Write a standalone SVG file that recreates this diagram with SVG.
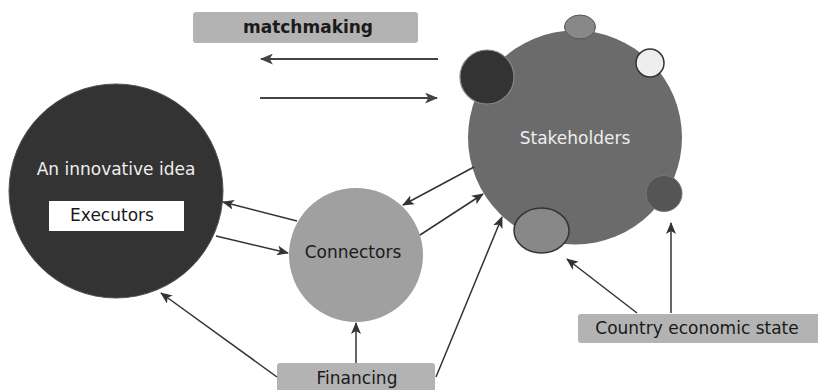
<svg xmlns="http://www.w3.org/2000/svg" width="818" height="390" viewBox="0 0 818 390">
  <defs>
    <marker id="head" viewBox="0 0 12 10" refX="11" refY="5" markerWidth="12" markerHeight="10" markerUnits="userSpaceOnUse" orient="auto">
      <path d="M0,0 L12,5 L0,10 L3,5 Z" fill="#333"/>
    </marker>
    <marker id="headBig" viewBox="0 0 12 10" refX="11" refY="5" markerWidth="13" markerHeight="11" markerUnits="userSpaceOnUse" orient="auto">
      <path d="M0,0 L12,5 L0,10 L3,5 Z" fill="#444"/>
    </marker>
    <style>
      text { font-family: "DejaVu Sans", Verdana, sans-serif; font-size: 17px; text-anchor: middle; }
      .link { fill: none; stroke: #333; stroke-width: 1.5; marker-end: url(#head); }
      .match { fill: none; stroke: #444; stroke-width: 2; marker-end: url(#headBig); }
      .label { fill: #b3b3b3; }
      .dark { fill: #1a1a1a; }
      .light { fill: #eeeeee; }
    </style>
  </defs>

  <!-- matchmaking banner -->
  <g id="matchmaking">
    <rect class="label" x="193" y="12" width="225" height="31" rx="3"/>
    <text class="dark" x="308" y="33" font-weight="bold">matchmaking</text>
  </g>

  <!-- idea node -->
  <g id="idea">
    <circle cx="116" cy="191" r="107" fill="#333333" stroke="#555" stroke-width="1"/>
    <text class="light" x="116" y="175">An innovative idea</text>
    <rect x="49" y="201" width="135" height="30" fill="#ffffff"/>
    <text class="dark" x="112" y="221">Executors</text>
  </g>

  <!-- connectors node -->
  <g id="connectors">
    <circle cx="356" cy="255" r="67" fill="#a0a0a0"/>
    <text class="dark" x="353" y="258">Connectors</text>
  </g>

  <!-- stakeholders node with satellite circles -->
  <g id="stakeholders">
    <circle cx="575" cy="137.5" r="107" fill="#6b6b6b"/>
    <text class="light" x="575" y="144" font-size="17.5">Stakeholders</text>
    <ellipse cx="580" cy="27" rx="15.5" ry="12" fill="#888888" stroke="#555" stroke-width="1"/>
    <circle cx="487" cy="77" r="27" fill="#333333" stroke="#888" stroke-width="1.2"/>
    <circle cx="650" cy="63" r="14" fill="#eeeeee" stroke="#333" stroke-width="1.5"/>
    <circle cx="664" cy="193.5" r="18" fill="#555555" stroke="#777" stroke-width="1"/>
    <ellipse cx="541.5" cy="230.5" rx="27.5" ry="22.5" fill="#888888" stroke="#333" stroke-width="1.5"/>
  </g>

  <!-- financing node -->
  <g id="financing">
    <rect class="label" x="277" y="363" width="158" height="36" rx="3"/>
    <text class="dark" x="357" y="384">Financing</text>
  </g>

  <!-- economy node -->
  <g id="economy">
    <rect class="label" x="578" y="314" width="245" height="29" rx="3"/>
    <text class="dark" x="697" y="334">Country economic state</text>
  </g>

  <!-- connectors -->
  <g id="links">
    <line class="match" x1="438" y1="59" x2="261" y2="59"/>
    <line class="match" x1="260" y1="98" x2="437" y2="98"/>
    <line class="link" x1="297" y1="221" x2="223" y2="202"/>
    <line class="link" x1="216" y1="236" x2="288" y2="253"/>
    <line class="link" x1="474" y1="167" x2="403" y2="205"/>
    <line class="link" x1="420" y1="235" x2="483" y2="194"/>
    <line class="link" x1="436" y1="377" x2="502" y2="217"/>
    <line class="link" x1="356" y1="363" x2="356" y2="323"/>
    <line class="link" x1="277" y1="377" x2="161" y2="293"/>
    <line class="link" x1="637" y1="313" x2="567" y2="259"/>
    <line class="link" x1="671" y1="313" x2="671" y2="223"/>
  </g>
</svg>
